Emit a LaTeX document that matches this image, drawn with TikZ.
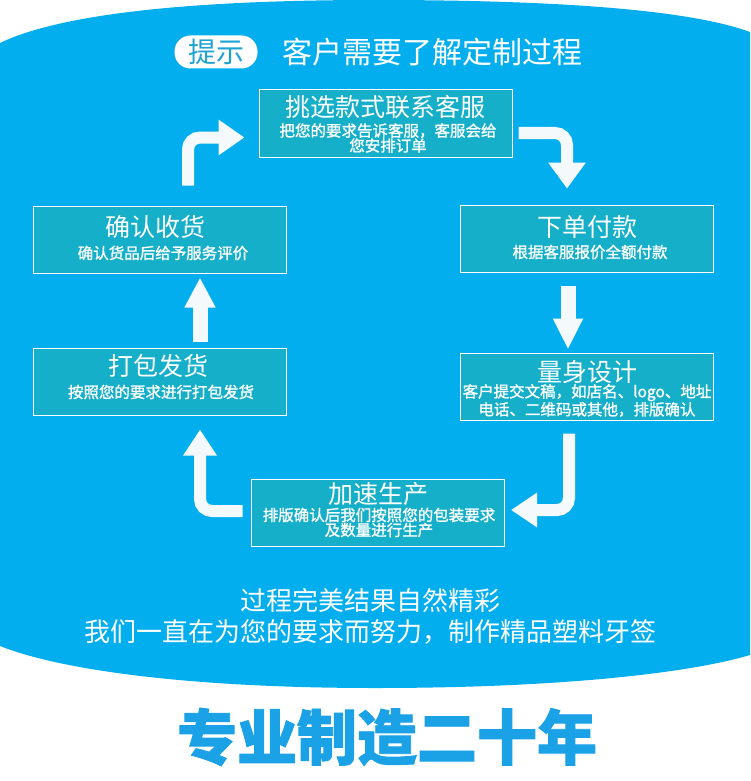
\documentclass[tikz,border=0pt]{standalone}
\usepackage{fontspec}
\setmainfont{Noto Sans CJK SC}
\newfontfamily\heavyfont{Noto Sans CJK SC}[BoldFeatures={FakeBold=1.5}]
\newfontfamily\subfont{Noto Sans CJK SC}[FakeBold=1.3]
\usetikzlibrary{arrows.meta,calc}
\definecolor{bgblue}{HTML}{03AEEF}
\definecolor{boxteal}{HTML}{16AFC9}
\definecolor{tipblue}{HTML}{1EA2D2}
\definecolor{bigblue}{HTML}{1BA1E6}
\definecolor{arrowwhite}{HTML}{F4F9FC}
\tikzset{
  stepbox/.style={draw=white, line width=1pt, fill=boxteal, minimum width=253pt, minimum height=67pt, inner sep=0pt},
  boxtitle/.style={text=white, inner sep=0pt, font=\fontsize{25}{28}\selectfont},
  boxsub/.style={text=white, inner sep=0pt, align=center, font=\subfont\fontsize{15.5}{15}\selectfont},
  flowarrow/.style={draw=arrowwhite, line width=12pt, rounded corners=12pt},
  straightarrow/.style={draw=arrowwhite, line width=15pt},
  bottomline/.style={text=white, inner sep=0pt, font=\fontsize{26}{30}\selectfont},
}
\begin{document}
\begin{tikzpicture}[x=1pt,y=-1pt]
\useasboundingbox (0,0) rectangle (750,781);
\fill[white] (0,0) rectangle (750,781);
% blue backdrop
\fill[bgblue] (0,43) .. controls (60,14) and (190,0) .. (375,0)
  .. controls (560,0) and (690,10) .. (750,32) -- (750,655)
  .. controls (690,673) and (560,688) .. (375,688)
  .. controls (190,688) and (60,670) .. (0,646) -- cycle;
% heading
\node[fill=white, rounded corners=16pt, minimum width=83pt, minimum height=33pt, inner sep=0pt,
      text=tipblue, font=\fontsize{28}{30}\selectfont] (tip) at (216,52) {提示};
\node[text=white, inner sep=0pt, font=\fontsize{30}{32}\selectfont] (title) at (432,52) {客户需要了解定制过程};
% boxes
\node[stepbox] (b1) at (385.5,123.5) {};
\node[boxtitle] (b1t) at (385.5,107) {挑选款式联系客服};
\node[boxsub] (b1s) at (388,138) {把您的要求告诉客服，客服会给\\您安排订单};
\node[stepbox] (b2) at (587,238.5) {};
\node[boxtitle] (b2t) at (587,227) {下单付款};
\node[boxsub] (b2s) at (590,252) {根据客服报价全额付款};
\node[stepbox] (b3) at (587,386.5) {};
\node[boxtitle] (b3t) at (587,372) {量身设计};
\node[boxsub] (b3s) at (587,400.5) {客户提交文稿，如店名、logo、地址\\电话、二维码或其他，排版确认};
\node[stepbox] (b4) at (378,513) {};
\node[boxtitle] (b4t) at (378,494) {加速生产};
\node[boxsub] (b4s) at (379,522.5) {排版确认后我们按照您的包装要求\\及数量进行生产};
\node[stepbox] (b5) at (159.5,381.5) {};
\node[boxtitle] (b5t) at (158,365.5) {打包发货};
\node[boxsub] (b5s) at (161,392) {按照您的要求进行打包发货};
\node[stepbox] (b6) at (159.5,239.5) {};
\node[boxtitle] (b6t) at (155,227) {确认收货};
\node[boxsub] (b6s) at (163,253) {确认货品后给予服务评价};
% arrows
\coordinate (aS) at ($(b6.north)+(28.5,-20)$);
\coordinate (aE) at ($(b1.west)+(-14,14)$);
\draw[flowarrow, -{Triangle[width=34pt,length=26pt]}] (aS) |- (aE);
\coordinate (bS) at ($(b1.east)+(6,9.5)$);
\coordinate (bE) at ($(b2.north)+(-20,-16)$);
\draw[flowarrow, -{Triangle[width=36pt,length=26pt]}] (bS) -| (bE);
\coordinate (cS) at ($(b2.south)+(-19,13)$);
\coordinate (cE) at ($(b3.north)+(-19,-3)$);
\draw[straightarrow, -{Triangle[width=28pt,length=31pt]}] (cS) -- (cE);
\coordinate (dS) at ($(b3.south)+(-18,13)$);
\coordinate (dE) at ($(b4.east)+(6,-3)$);
\draw[flowarrow, -{Triangle[width=33pt,length=26pt]}] (dS) |- (dE);
\coordinate (eS) at ($(b4.west)+(-8.5,-2)$);
\coordinate (eE) at ($(b5.south)+(40.5,14)$);
\draw[flowarrow, -{Triangle[width=32pt,length=26pt]}] (eS) -| (eE);
\coordinate (fS) at ($(b5.north)+(40.5,-6)$);
\coordinate (fE) at ($(b6.south)+(40.5,4)$);
\draw[straightarrow, -{Triangle[width=29pt,length=30pt]}] (fS) -- (fE);
% closing lines
\node[bottomline] (l1) at (370,601) {过程完美结果自然精彩};
\node[bottomline] (l2) at (370,632) {我们一直在为您的要求而努力，制作精品塑料牙签};
\node[text=bigblue, inner sep=0pt, font=\heavyfont\bfseries\fontsize{60}{66}\selectfont] (big) at (387,737) {专业制造二十年};
\end{tikzpicture}
\end{document}
